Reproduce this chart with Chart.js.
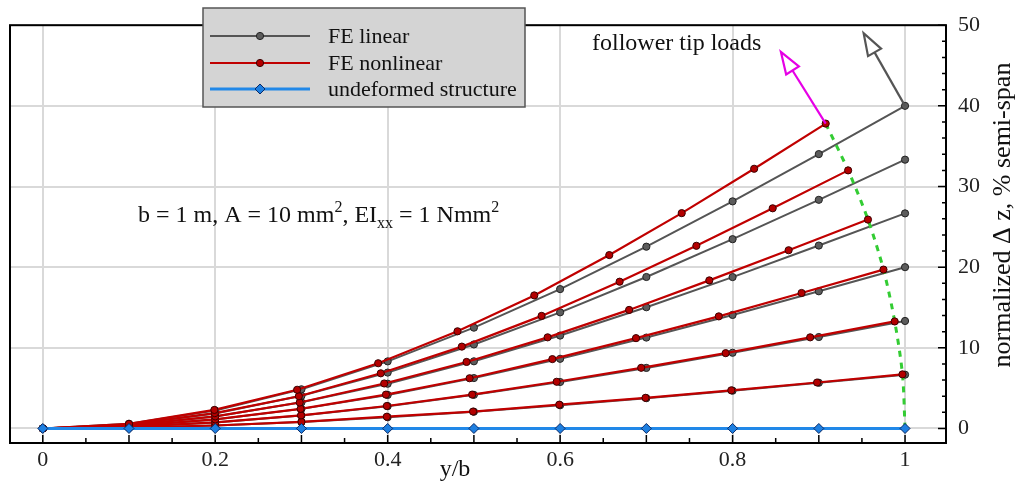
<!DOCTYPE html>
<html>
<head>
<meta charset="utf-8">
<script src="https://cdn.jsdelivr.net/npm/chart.js@4.4.0/dist/chart.umd.min.js"></script>
<style>
  body { margin: 0; background: #fff; }
  #wrap { width: 1031px; height: 485px; }
</style>
</head>
<body>
<div id="wrap"><canvas id="myChart" width="1031" height="485"></canvas></div>
<script>
// spanwise stations y/b
const yb = [0, 0.1, 0.2, 0.3, 0.4, 0.5, 0.6, 0.7, 0.8, 0.9, 1];
const undeformed = [0, 0, 0, 0, 0, 0, 0, 0, 0, 0, 0];

// FE linear, normalized dz (% semi-span)
const linear1 = [0, 0.58, 2.24, 4.86, 8.32, 12.5, 17.28, 22.54, 28.16, 34.02, 40];
const linear2 = [0, 0.48, 1.87, 4.05, 6.93, 10.42, 14.4, 18.78, 23.47, 28.35, 33.33];
const linear3 = [0, 0.39, 1.49, 3.24, 5.55, 8.33, 11.52, 15.03, 18.77, 22.68, 26.67];
const linear4 = [0, 0.29, 1.12, 2.43, 4.16, 6.25, 8.64, 11.27, 14.08, 17.01, 20];
const linear5 = [0, 0.19, 0.75, 1.62, 2.77, 4.17, 5.76, 7.51, 9.39, 11.34, 13.33];
const linear6 = [0, 0.1, 0.37, 0.81, 1.39, 2.08, 2.88, 3.76, 4.69, 5.67, 6.67];

// FE nonlinear, deformed node positions
const nonlinX1 = [0, 0.1, 0.199, 0.295, 0.389, 0.481, 0.570, 0.657, 0.741, 0.825, 0.908];
const nonlinZ1 = [0, 0.58, 2.3, 4.8, 8.09, 12.05, 16.5, 21.5, 26.7, 32.2, 37.8];
const nonlinX2 = [0, 0.1, 0.1995, 0.297, 0.392, 0.486, 0.5785, 0.669, 0.758, 0.8465, 0.934];
const nonlinZ2 = [0, 0.48, 1.9, 4.0, 6.84, 10.15, 13.96, 18.2, 22.65, 27.3, 32.0];
const nonlinX3 = [0, 0.1, 0.2, 0.298, 0.396, 0.4915, 0.5855, 0.680, 0.773, 0.865, 0.957];
const nonlinZ3 = [0, 0.39, 1.5, 3.22, 5.58, 8.25, 11.3, 14.7, 18.36, 22.1, 25.9];
const nonlinX4 = [0, 0.1, 0.2, 0.299, 0.398, 0.495, 0.591, 0.688, 0.784, 0.880, 0.975];
const nonlinZ4 = [0, 0.29, 1.12, 2.43, 4.2, 6.23, 8.6, 11.2, 13.9, 16.8, 19.7];
const nonlinX5 = [0, 0.1, 0.2, 0.2995, 0.399, 0.498, 0.596, 0.694, 0.792, 0.890, 0.988];
const nonlinZ5 = [0, 0.19, 0.75, 1.62, 2.79, 4.2, 5.79, 7.52, 9.34, 11.3, 13.27];
const nonlinX6 = [0, 0.1, 0.2, 0.3, 0.399, 0.499, 0.599, 0.699, 0.7985, 0.898, 0.997];
const nonlinZ6 = [0, 0.1, 0.37, 0.81, 1.46, 2.1, 2.95, 3.8, 4.73, 5.7, 6.71];

// tip locus (green dashed)
const tipX = [0.908, 0.934, 0.957, 0.975, 0.988, 0.997, 1];
const tipZ = [37.8, 32.0, 25.9, 19.7, 13.27, 6.71, 0];

// follower load arrows [x0, z0, x1, z1]
const arrowNonlin = [0.908, 37.8, 0.856, 46.7];
const arrowLin = [1, 40, 0.952, 49.0];

const xTicks = [0, 0.2, 0.4, 0.6, 0.8, 1];
const yTicks = [0, 10, 20, 30, 40, 50];

const SERIF = '"Liberation Serif", "Times New Roman", serif';
const GRAY = '#555555';
const RED = '#c00000';
const BLUE = '#2188e8';

function pts(xs, ys) {
    return xs.map((x, i) => ({ x: x, y: ys[i] }));
}

let datasets = [];
datasets.push({
    label: 'undeformed structure',
    data: pts(yb, undeformed),
    borderColor: BLUE,
    borderWidth: 3,
    pointStyle: 'rectRot',
    pointRadius: 5,
    pointBackgroundColor: '#1e7fe0',
    pointBorderColor: '#0b2a66',
    pointBorderWidth: 1
});
[[nonlinX1, nonlinZ1], [nonlinX2, nonlinZ2], [nonlinX3, nonlinZ3],
 [nonlinX4, nonlinZ4], [nonlinX5, nonlinZ5], [nonlinX6, nonlinZ6]].forEach(function(c) {
    datasets.push({
        label: 'FE nonlinear',
        data: pts(c[0], c[1]),
        borderColor: RED,
        borderWidth: 2.2,
        pointRadius: 3.6,
        pointBackgroundColor: '#b30000',
        pointBorderColor: '#3a0000',
        pointBorderWidth: 1
    });
});
datasets.push({
    label: 'tip locus',
    data: pts(tipX, tipZ),
    borderColor: '#33cc33',
    borderWidth: 3,
    borderDash: [6, 6],
    pointRadius: 0,
    tension: 0.3
});
[linear1, linear2, linear3, linear4, linear5, linear6].forEach(function(l) {
    datasets.push({
        label: 'FE linear',
        data: pts(yb, l),
        borderColor: GRAY,
        borderWidth: 2,
        pointRadius: 3.6,
        pointBackgroundColor: '#5c5c5c',
        pointBorderColor: '#222222',
        pointBorderWidth: 1
    });
});

function drawArrow(ctx, xs, ys, a, color) {
    let x0 = xs.getPixelForValue(a[0]), y0 = ys.getPixelForValue(a[1]);
    let x1 = xs.getPixelForValue(a[2]), y1 = ys.getPixelForValue(a[3]);
    let ang = Math.atan2(y1 - y0, x1 - x0);
    let len = 22, hw = 7.5;
    let bx = x1 - len * Math.cos(ang), by = y1 - len * Math.sin(ang);
    ctx.save();
    ctx.strokeStyle = color;
    ctx.lineWidth = 2.2;
    ctx.beginPath();
    ctx.moveTo(x0, y0);
    ctx.lineTo(bx, by);
    ctx.stroke();
    ctx.beginPath();
    ctx.moveTo(x1, y1);
    ctx.lineTo(bx + hw * Math.sin(ang), by - hw * Math.cos(ang));
    ctx.lineTo(bx - hw * Math.sin(ang), by + hw * Math.cos(ang));
    ctx.closePath();
    ctx.fillStyle = '#fff';
    ctx.fill();
    ctx.stroke();
    ctx.restore();
}

const decorPlugin = {
    id: 'decor',
    afterDatasetsDraw(chart) {
        let ctx = chart.ctx;
        let xs = chart.scales.x, ys = chart.scales.y;
        let a = chart.chartArea;

        drawArrow(ctx, xs, ys, arrowNonlin, '#e600e6');
        drawArrow(ctx, xs, ys, arrowLin, '#555555');

        // frame
        ctx.save();
        ctx.strokeStyle = '#000';
        ctx.lineWidth = 2;
        ctx.strokeRect(a.left, a.top, a.right - a.left, a.bottom - a.top);

        // inward ticks, bottom axis
        ctx.lineWidth = 1.5;
        ctx.beginPath();
        for (let i = 0; i <= 20; i++) {
            let px = xs.getPixelForValue(i * 0.05);
            let len = (i % 2 === 0) ? 8 : 5;
            ctx.moveTo(px, a.bottom);
            ctx.lineTo(px, a.bottom - len);
        }
        // inward ticks, right axis
        for (let v = 0; v <= 50; v += 2) {
            let py = ys.getPixelForValue(v);
            let len = (v % 10 === 0) ? 8 : 4;
            ctx.moveTo(a.right, py);
            ctx.lineTo(a.right - len, py);
        }
        ctx.stroke();
        ctx.restore();
    },
    afterDraw(chart) {
        let ctx = chart.ctx;
        ctx.save();

        // legend box
        ctx.fillStyle = '#d4d4d4';
        ctx.fillRect(203, 8, 322, 99);
        ctx.strokeStyle = '#555';
        ctx.lineWidth = 1.5;
        ctx.strokeRect(203, 8, 322, 99);

        let rows = [
            { text: 'FE linear', y: 36, color: GRAY, fill: '#5c5c5c', edge: '#222', style: 'circle' },
            { text: 'FE nonlinear', y: 63, color: RED, fill: '#b30000', edge: '#3a0000', style: 'circle' },
            { text: 'undeformed structure', y: 89, color: BLUE, fill: '#1e7fe0', edge: '#0b2a66', style: 'rectRot' }
        ];
        rows.forEach(function(r) {
            ctx.strokeStyle = r.color;
            ctx.lineWidth = r.style === 'rectRot' ? 3 : 2.2;
            ctx.beginPath();
            ctx.moveTo(210, r.y);
            ctx.lineTo(310, r.y);
            ctx.stroke();
            ctx.fillStyle = r.fill;
            ctx.strokeStyle = r.edge;
            ctx.lineWidth = 1;
            Chart.helpers.drawPoint(ctx, { pointStyle: r.style, radius: r.style === 'rectRot' ? 5 : 3.6, rotation: 0, borderWidth: 1 }, 260, r.y);
            ctx.fillStyle = '#111';
            ctx.font = '22px ' + SERIF;
            ctx.textBaseline = 'middle';
            ctx.textAlign = 'left';
            ctx.fillText(r.text, 328, r.y + 1);
        });

        // annotations
        ctx.fillStyle = '#111';
        ctx.font = '24px ' + SERIF;
        ctx.textBaseline = 'alphabetic';
        ctx.fillText('follower tip loads', 592, 50);

        let x = 138, base = 222;
        let parts = [
            ['b = 1 m, A = 10 mm', 0, 24],
            ['2', -10, 16],
            [', EI', 0, 24],
            ['xx', 6, 16],
            [' = 1 Nmm', 0, 24],
            ['2', -10, 16]
        ];
        parts.forEach(function(p) {
            ctx.font = p[2] + 'px ' + SERIF;
            ctx.fillText(p[0], x, base + p[1]);
            x += ctx.measureText(p[0]).width;
        });

        // axis titles
        ctx.font = '24px ' + SERIF;
        ctx.textAlign = 'center';
        ctx.textBaseline = 'middle';
        ctx.fillText('y/b', 455, 470);

        ctx.translate(1003, 215);
        ctx.rotate(-Math.PI / 2);
        ctx.font = '26px ' + SERIF;
        ctx.fillText('normalized \u0394 z, % semi-span', 0, 0);
        ctx.restore();
    }
};

let ctx = document.getElementById('myChart').getContext('2d');
let chart = new Chart(ctx, {
    type: 'line',
    data: { datasets: datasets },
    options: {
        responsive: false,
        animation: false,
        layout: { padding: { left: 10, top: 16, right: 0, bottom: 0 } },
        plugins: {
            legend: { display: false },
            tooltip: { enabled: false }
        },
        scales: {
            x: {
                type: 'linear',
                min: -0.038,
                max: 1.0475,
                afterBuildTicks: function(s) { s.ticks = xTicks.map(v => ({ value: v })); },
                afterFit: function(s) { s.height = 42; },
                grid: { color: '#d9d9d9', lineWidth: 2, drawTicks: false },
                border: { display: false },
                ticks: {
                    font: { family: SERIF, size: 22 },
                    color: '#222',
                    padding: 4,
                    maxRotation: 0,
                    autoSkip: false,
                    callback: v => String(v)
                }
            },
            y: {
                type: 'linear',
                position: 'right',
                min: -1.8,
                max: 50,
                afterBuildTicks: function(s) { s.ticks = yTicks.map(v => ({ value: v })); },
                afterFit: function(s) { s.width = 85; },
                grid: { color: '#d9d9d9', lineWidth: 2, drawTicks: false },
                border: { display: false },
                ticks: {
                    font: { family: SERIF, size: 22 },
                    color: '#222',
                    padding: 12,
                    autoSkip: false,
                    callback: v => String(v)
                }
            }
        }
    },
    plugins: [decorPlugin]
});
</script>
</body>
</html>
